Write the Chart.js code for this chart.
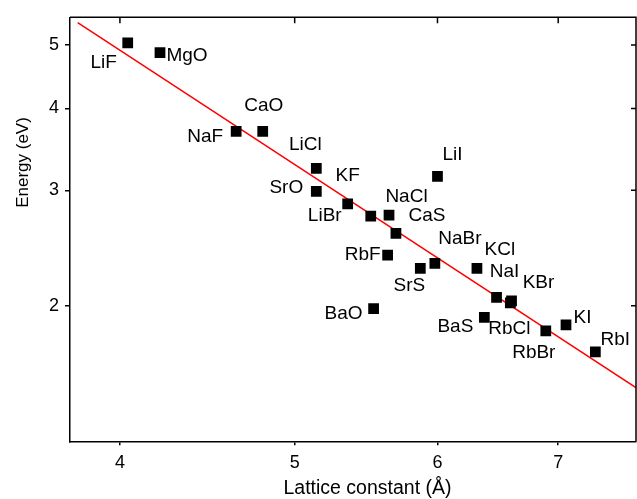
<!DOCTYPE html>
<html><head><meta charset="utf-8">
<script src="https://cdn.jsdelivr.net/npm/chart.js@4.4.1/dist/chart.umd.min.js"></script>
<style>html,body{margin:0;padding:0;background:#fff;}#wrap{width:637px;height:499px;}</style>
</head><body><div id="wrap"><canvas id="c" width="637" height="499"></canvas></div>
<script>
const compounds = ['LiF','MgO','NaF','CaO','LiCl','SrO','KF','LiBr','NaCl','CaS','RbF','LiI','SrS','NaBr','BaO','KCl','BaS','NaI','RbCl','KBr','RbBr','KI','RbI'];
const latticeConstant = [4.04,4.21,4.64,4.80,5.14,5.14,5.35,5.51,5.64,5.69,5.63,6.00,5.87,5.98,5.53,6.31,6.37,6.47,6.585,6.595,6.89,7.07,7.34];
const energy = [5.04,4.87,3.69,3.69,3.24,2.99,2.86,2.74,2.75,2.58,2.39,3.15,2.28,2.32,1.98,2.28,1.92,2.06,2.02,2.035,1.83,1.87,1.70];
const fitLattice = [3.79, 7.73];
const fitEnergy = [5.41, 1.50];
const xTicks = [4,5,6,7];
const yTicks = [2,3,4,5];
const xTitle = 'Lattice constant (Å)';
const yTitle = 'Energy (eV)';

// label placement relative to each marker (pixels)
const labelOffsets = [[-24,20],[27,3],[-31,5],[1,-26],[-11,-24],[-30,-4],[0,-28],[-46,0],[17.5,-18],[31,-17],[-25,0],[15,-21.5],[-11,17],[25,-25],[-30,5],[23,-19],[-29,9],[8,-26],[-1,25.5],[27,-17.5],[-12,22],[16.5,-7],[20,-12.5]];

const FONT = "'Liberation Sans', Arial, Helvetica, sans-serif";

const points = compounds.map((n,i)=>({x: latticeConstant[i], y: energy[i]}));
const fitPoints = fitLattice.map((x,i)=>({x: x, y: fitEnergy[i]}));

const framePlugin = {
  id:'frame',
  afterDraw(chart){
    const ctx = chart.ctx, a = chart.chartArea;
    ctx.save();
    ctx.strokeStyle = '#000'; ctx.lineWidth = 1.5;
    ctx.beginPath();
    ctx.moveTo(a.left, a.top); ctx.lineTo(a.right, a.top); ctx.lineTo(a.right, a.bottom);
    xTicks.forEach(v=>{ const px = chart.scales.x.getPixelForValue(v); ctx.moveTo(px, a.top); ctx.lineTo(px, a.top+6); });
    yTicks.forEach(v=>{ const py = chart.scales.y.getPixelForValue(v); ctx.moveTo(a.right, py); ctx.lineTo(a.right-5, py); });
    ctx.stroke();
    // titles
    ctx.fillStyle = '#000';
    ctx.textAlign = 'center'; ctx.textBaseline = 'middle';
    ctx.font = '19.5px ' + FONT;
    ctx.fillText(xTitle, 367.5, 489);
    ctx.translate(23, 162.5); ctx.rotate(-Math.PI/2);
    ctx.font = '17px ' + FONT;
    ctx.fillText(yTitle, 0, 0);
    ctx.restore();
  }
};

const labelPlugin = {
  id:'pointLabels',
  afterDatasetsDraw(chart){
    const ctx = chart.ctx;
    const meta = chart.getDatasetMeta(0);
    ctx.save();
    ctx.fillStyle = '#000';
    ctx.font = '19px ' + FONT;
    ctx.textAlign = 'center'; ctx.textBaseline = 'middle';
    meta.data.forEach((el,i)=>{
      const o = labelOffsets[i];
      ctx.fillText(compounds[i], el.x + o[0], el.y + o[1]);
    });
    ctx.restore();
  }
};

new Chart(document.getElementById('c'), {
  type:'scatter',
  data:{datasets:[
    {data: points, pointStyle:'rect', pointRadius:7.6, pointHoverRadius:7.6, backgroundColor:'#000', borderWidth:0, order:0},
    {type:'line', data: fitPoints, borderColor:'#ff0000', borderWidth:1.5, pointRadius:0, fill:false, tension:0, order:1}
  ]},
  options:{
    responsive:false, animation:false, devicePixelRatio:1,
    layout:{autoPadding:false, padding:{top:17.3, right:1, left:0, bottom:0}},
    plugins:{legend:{display:false}, tooltip:{enabled:false}},
    scales:{
      x:{type:'logarithmic', min:3.753, max:7.731,
        afterBuildTicks: s=>{ s.ticks = xTicks.map(v=>({value:v})); },
        afterFit: s=>{ s.height = 57.7; s.paddingLeft = 0; s.paddingRight = 0; },
        grid:{display:true, drawOnChartArea:false, drawTicks:true, tickLength:4, color:'#000', lineWidth:1.5},
        border:{display:true, color:'#000', width:1.5},
        ticks:{color:'#000', font:{family:FONT, size:18}, padding:7, maxRotation:0, autoSkip:false, callback:(v)=>String(v)}
      },
      y:{type:'logarithmic', min:1.2417, max:5.512,
        afterBuildTicks: s=>{ s.ticks = yTicks.map(v=>({value:v})); },
        afterFit: s=>{ s.width = 70; s.paddingTop = 0; s.paddingBottom = 0; },
        grid:{display:true, drawOnChartArea:false, drawTicks:true, tickLength:5, color:'#000', lineWidth:1.5},
        border:{display:true, color:'#000', width:1.5},
        ticks:{color:'#000', font:{family:FONT, size:18}, padding:6, autoSkip:false, callback:(v)=>String(v)}
      }
    }
  },
  plugins:[framePlugin, labelPlugin]
});
</script>
</body></html>
